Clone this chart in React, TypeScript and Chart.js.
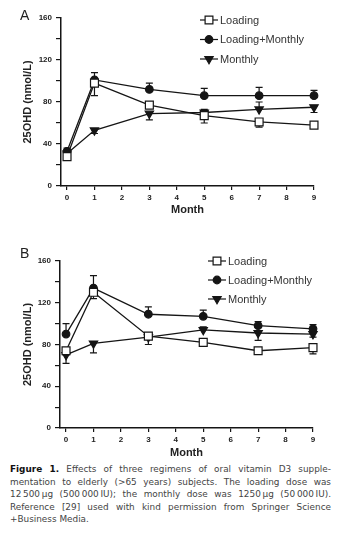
import React, { useEffect, useRef } from 'react';
import { Chart, registerables } from 'chart.js';
Chart.register(...registerables);

// ---------- data ----------
const months = [0, 1, 3, 5, 7, 9];
const xTickValues = [0, 1, 2, 3, 4, 5, 6, 7, 8, 9];
const seriesNames = ['Loading', 'Loading+Monthly', 'Monthly'];
const yTitle = '25OHD (nmol/L)';
const xTitle = 'Month';

// Panel A
const loadingA = [28, 98, 77, 67, 61, 58];
const loadingAErr = [-3, -12, -3, -7, -5, -2];
const loadMonthlyA = [33, 101, 92, 86, 86, 86];
const loadMonthlyAErr = [3, 7, 6, 7, 8, 5];
const monthlyA = [31, 53, 69, 70, 73, 75];
const monthlyAErr = [-2, -3, -6, 3, 7, -5];

// Panel B
const loadingB = [74, 130, 88, 82, 74, 77];
const loadingBErr = [-4, -6, -3, -3, -3, -6];
const loadMonthlyB = [90, 134, 109, 107, 98, 95];
const loadMonthlyBErr = [10, 12, 7, 6, 4, 4];
const monthlyB = [70, 81, 87, 94, 91, 90];
const monthlyBErr = [-8, -9, -7, 3, -7, -3];

const FONT = '"Liberation Sans", Arial, sans-serif';
const CAPTION_FONT = '"DejaVu Sans", Verdana, sans-serif';
const INK = '#151515';

const markerStyles = [
  { pointStyle: 'rect', pointRadius: 5.6, pointRotation: 0, pointBackgroundColor: '#ffffff' },
  { pointStyle: 'circle', pointRadius: 3.8, pointRotation: 0, pointBackgroundColor: INK },
  { pointStyle: 'triangle', pointRadius: 4.8, pointRotation: 180, pointBackgroundColor: INK },
];

function toPoints(vals: number[]) {
  return months.map((m, i) => ({ x: m, y: vals[i] }));
}

function drawMarker(ctx: CanvasRenderingContext2D, style: string, x: number, y: number) {
  ctx.save();
  ctx.lineWidth = 1.2;
  ctx.strokeStyle = INK;
  ctx.beginPath();
  if (style === 'rect') {
    ctx.fillStyle = '#fff';
    ctx.rect(x - 3.9, y - 3.9, 7.8, 7.8);
  } else if (style === 'circle') {
    ctx.fillStyle = INK;
    ctx.arc(x, y, 3.8, 0, Math.PI * 2);
  } else {
    ctx.fillStyle = INK;
    const r = 4.8;
    ctx.moveTo(x, y + r);
    ctx.lineTo(x - r * 0.866, y - r / 2);
    ctx.lineTo(x + r * 0.866, y - r / 2);
    ctx.closePath();
  }
  ctx.fill();
  ctx.stroke();
  ctx.restore();
}

const errorBarPlugin = {
  id: 'errorBars',
  beforeDatasetsDraw(chart: any) {
    const ctx = chart.ctx;
    const ys = chart.scales.y;
    chart.data.datasets.forEach((ds: any, i: number) => {
      const meta = chart.getDatasetMeta(i);
      const errs: number[] = ds.errors || [];
      meta.data.forEach((pt: any, j: number) => {
        const e = errs[j];
        if (!e) return;
        const v = ds.data[j].y;
        const y2 = ys.getPixelForValue(v + e);
        ctx.save();
        ctx.strokeStyle = INK;
        ctx.lineWidth = 1.2;
        ctx.beginPath();
        ctx.moveTo(pt.x, pt.y);
        ctx.lineTo(pt.x, y2);
        ctx.moveTo(pt.x - 3.5, y2);
        ctx.lineTo(pt.x + 3.5, y2);
        ctx.stroke();
        ctx.restore();
      });
    });
  },
};

const legendPlugin = {
  id: 'lineLegend',
  afterDraw(chart: any, _args: any, opts: any) {
    const ctx = chart.ctx;
    const area = chart.chartArea;
    chart.data.datasets.forEach((ds: any, i: number) => {
      const x0 = area.right - opts.dx;
      const y = area.top + opts.dy + i * opts.gap;
      ctx.save();
      ctx.strokeStyle = INK;
      ctx.lineWidth = 1.2;
      ctx.beginPath();
      ctx.moveTo(x0, y);
      ctx.lineTo(x0 + 18, y);
      ctx.stroke();
      ctx.restore();
      drawMarker(ctx, ds.pointStyle, x0 + 9, y);
      ctx.save();
      ctx.fillStyle = '#333';
      ctx.font = '11px ' + FONT;
      ctx.textBaseline = 'middle';
      ctx.textAlign = 'left';
      ctx.fillText(ds.label, x0 + 20, y + 0.5);
      ctx.restore();
    });
  },
};

type PanelProps = {
  top: number;
  height: number;
  axisLeft: number;
  axisRight: number;
  plotTop: number;
  plotBottom: number;
  series: { vals: number[]; errs: number[] }[];
  legend: { dx: number; dy: number; gap: number };
  letter: string;
  letterTop: number;
};

function Panel(p: PanelProps) {
  const ref = useRef<HTMLCanvasElement>(null);
  useEffect(() => {
    if (!ref.current) return;
    const datasets = p.series.map((s, i) => ({
      label: seriesNames[i],
      data: toPoints(s.vals),
      errors: s.errs,
      borderColor: INK,
      borderWidth: 1.3,
      pointBorderColor: INK,
      pointBorderWidth: 1.2,
      ...markerStyles[i],
      clip: false,
      tension: 0,
    }));
    const chart = new Chart(ref.current, {
      type: 'line',
      data: { datasets: datasets as any },
      plugins: [errorBarPlugin, legendPlugin],
      options: {
        animation: false,
        responsive: false,
        maintainAspectRatio: false,
        layout: {
          padding: { top: p.plotTop, right: 342 - p.axisRight, left: 0, bottom: 0 },
        },
        plugins: {
          legend: { display: false },
          tooltip: { enabled: false },
          lineLegend: p.legend,
        } as any,
        scales: {
          x: {
            type: 'linear',
            min: -0.22,
            max: 9,
            afterBuildTicks: (axis: any) => {
              axis.ticks = xTickValues.map((v) => ({ value: v }));
            },
            afterFit: (scale: any) => {
              scale.height = p.height - p.plotBottom;
            },
            grid: { drawOnChartArea: false, drawTicks: true, tickLength: 4, color: INK, lineWidth: 1.2 },
            border: { display: true, color: INK, width: 1.5 },
            ticks: {
              color: '#222',
              padding: 3,
              font: { family: FONT, size: 8, weight: 'bold' },
              callback: (v: any) => String(v),
            },
            title: {
              display: true,
              text: xTitle,
              color: '#222',
              font: { family: FONT, size: 11, weight: 'bold' },
              padding: { top: 0, bottom: 3 },
            },
          },
          y: {
            min: 0,
            max: 160,
            afterFit: (scale: any) => {
              scale.width = p.axisLeft;
            },
            grid: { drawOnChartArea: false, drawTicks: true, tickLength: 5, color: INK, lineWidth: 1.2 },
            border: { display: true, color: INK, width: 1.5 },
            ticks: {
              stepSize: 20,
              color: '#222',
              padding: 4,
              font: { family: FONT, size: 8, weight: 'bold' },
              callback: (v: any) => (Number(v) % 40 === 0 ? String(v) : ''),
            },
            title: {
              display: true,
              text: yTitle,
              color: '#222',
              font: { family: FONT, size: 11, weight: 'bold' },
              padding: { top: 21, bottom: 0 },
            },
          },
        },
      } as any,
    });
    return () => chart.destroy();
  }, []);
  return (
    <div style={{ position: 'absolute', left: 0, top: p.top, width: 342, height: p.height }}>
      <canvas ref={ref} width={342} height={p.height} style={{ display: 'block' }} />
      <div
        style={{
          position: 'absolute',
          left: 20,
          top: p.letterTop,
          fontFamily: FONT,
          fontSize: 14,
          lineHeight: '14px',
          color: '#222',
        }}
      >
        {p.letter}
      </div>
    </div>
  );
}

const captionLines = [
  'Effects of three regimens of oral vitamin D3 supple-',
  'mentation to elderly (>65 years) subjects. The loading dose was',
  '12\u2009500\u2009\u00b5g (500\u2009000\u2009IU); the monthly dose was 1250\u2009\u00b5g (50\u2009000\u2009IU).',
  'Reference [29] used with kind permission from Springer Science',
  '+Business Media.',
];

function Caption() {
  return (
    <div
      style={{
        position: 'absolute',
        left: 10,
        top: 463,
        width: 321,
        fontFamily: CAPTION_FONT,
        fontSize: 8.9,
        lineHeight: '12.6px',
        color: '#444',
      }}
    >
      {captionLines.map((t, i) => (
        <div
          key={i}
          style={{
            textAlign: i < 4 ? 'justify' : 'left',
            textAlignLast: i < 4 ? 'justify' : 'left',
            height: 12.6,
          } as any}
        >
          {i === 0 ? (
            <>
              <b style={{ color: '#111' }}>Figure 1.</b> {t}
            </>
          ) : (
            t
          )}
        </div>
      ))}
    </div>
  );
}

export default function App() {
  return (
    <div style={{ position: 'absolute', left: 0, top: 0, width: 342, height: 534, background: '#fff' }}>
      <Panel
        top={0}
        height={220}
        axisLeft={61}
        axisRight={314}
        plotTop={18}
        plotBottom={186}
        series={[
          { vals: loadingA, errs: loadingAErr },
          { vals: loadMonthlyA, errs: loadMonthlyAErr },
          { vals: monthlyA, errs: monthlyAErr },
        ]}
        legend={{ dx: 114, dy: 2, gap: 19.5 }}
        letter="A"
        letterTop={8}
      />
      <Panel
        top={243}
        height={220}
        axisLeft={60}
        axisRight={313}
        plotTop={18}
        plotBottom={185}
        series={[
          { vals: loadingB, errs: loadingBErr },
          { vals: loadMonthlyB, errs: loadMonthlyBErr },
          { vals: monthlyB, errs: monthlyBErr },
        ]}
        legend={{ dx: 105, dy: 0, gap: 19 }}
        letter="B"
        letterTop={3}
      />
      <Caption />
    </div>
  );
}
